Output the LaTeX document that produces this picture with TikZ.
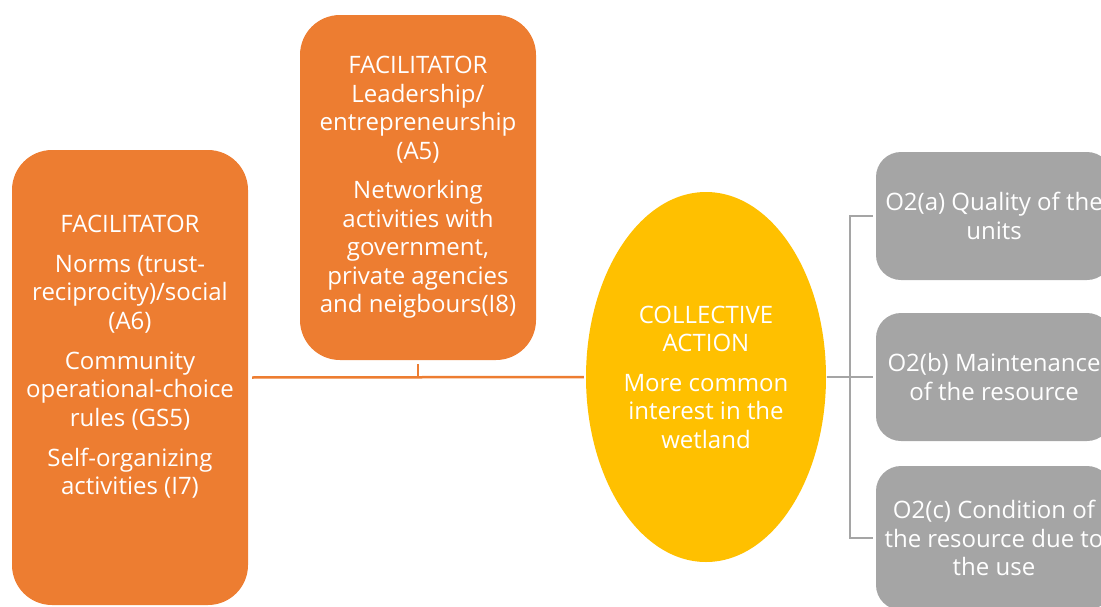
\documentclass[tikz,border=0pt]{standalone}
\usepackage{fontspec}
\setmainfont{Open Sans}
\usetikzlibrary{shapes.geometric}

\definecolor{facorange}{HTML}{ED7D31}
\definecolor{actyellow}{HTML}{FFC000}
\definecolor{outgray}{HTML}{A5A5A5}

\begin{document}
\begin{tikzpicture} [x=1pt, y=-1pt,
        every node/.style={font=\fontsize{24}{28.5}\selectfont, text=white, align=center, inner sep=0pt},
        facbox/.style={fill=facorange, rounded corners=40pt, minimum width=236pt},
        outbox/.style={fill=outgray, rounded corners=25pt, minimum width=236pt},
        actell/.style={ellipse, fill=actyellow, minimum width=240pt, minimum height=370pt},
        link/.style={line width=2.5pt}]
    \useasboundingbox (0,0) rectangle (1101,606);
    \clip (0,0) rectangle (1101,606);

        % facilitators
        \node[facbox, minimum height=455pt] (lbox) at (130,377.5) {};
        \node (ltext) at ([yshift=21pt]lbox.center) {FACILITATOR\\[11.5pt]
            Norms (trust-\\reciprocity)/social\\(A6)\\[11.5pt]
            Community\\operational-choice\\rules (GS5)\\[11.5pt]
            Self-organizing\\activities (I7)};
        \node[facbox, minimum height=345pt] (tbox) at (418,187.5) {FACILITATOR\\
            Leadership/\\entrepreneurship\\(A5)\\[11pt]
            Networking\\activities with\\government,\\private agencies\\and neigbours(I8)};

        % collective action
        \node[actell] (act) at (706,377) {COLLECTIVE\\ACTION\\[11pt]
            More common\\interest in the\\wetland};

        % outcomes
        \node[outbox, minimum height=128pt] (oa) at (994,216) {O2(a) Quality of the\\units};
        \node[outbox, minimum height=128pt] (ob) at (994,377) {O2(b) Maintenance\\of the resource};
        \node[outbox, minimum height=144pt] (oc) at (994,538) {O2(c) Condition of\\the resource due to\\the use};

        \draw[link, facorange, shorten <=4pt, shorten >=2pt] (lbox.east) -- (act.west);
        \draw[link, facorange, shorten <=4pt] (tbox.south) -- (tbox.south |- lbox.east);

        \coordinate (brk) at (850,377);
        \draw[link, outgray, shorten <=1pt, shorten >=3pt] (act.east) -- (ob.west);
        \draw[link, outgray, shorten <=3pt] (oa.west) -| (brk);
        \draw[link, outgray, shorten <=3pt] (oc.west) -| (brk);
\end{tikzpicture}
\end{document}
